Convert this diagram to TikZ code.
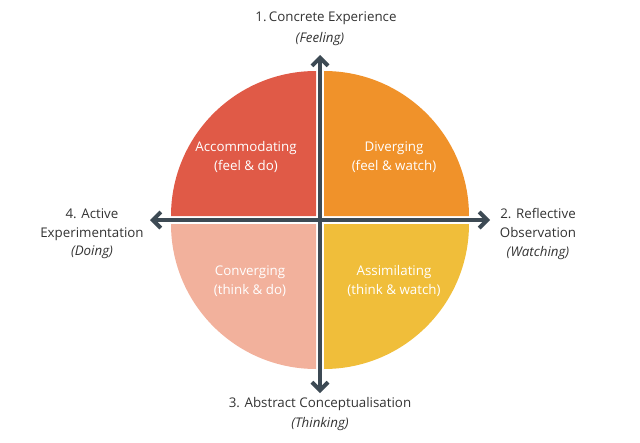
\documentclass[tikz,border=0pt]{standalone}
\usepackage{fontspec}
\setmainfont{Open Sans}
\usetikzlibrary{arrows.meta}
\definecolor{qred}{HTML}{E05A47}
\definecolor{qorange}{HTML}{F0922A}
\definecolor{qsalmon}{HTML}{F2B19C}
\definecolor{qyellow}{HTML}{F0BE3A}
\definecolor{axis}{HTML}{3D4A54}
\definecolor{txt}{HTML}{333333}
\begin{document}
\begin{tikzpicture}[x=0.75pt,y=-0.75pt,
  lab/.style={text=txt,align=center,font=\fontsize{10}{14}\selectfont},
  inlab/.style={text=white,align=center,font=\fontsize{10}{14}\selectfont},
  ax/.style={draw=axis,line width=3pt,{Straight Barb[length=6pt,width=12pt]}-{Straight Barb[length=6pt,width=12pt]}}]
\useasboundingbox (0,0) rectangle (640,443);
\def\r{145}
\fill[qred] (316,216) -- ++(-\r,0) arc[start angle=180,end angle=270,radius=\r] -- cycle;
\fill[qorange] (324,216) -- ++(0,-\r) arc[start angle=270,end angle=360,radius=\r] -- cycle;
\fill[qsalmon] (316,224) -- ++(-\r,0) arc[start angle=180,end angle=90,radius=\r] -- cycle;
\fill[qyellow] (324,224) -- ++(\r,0) arc[start angle=0,end angle=90,radius=\r] -- cycle;
\coordinate (t) at (320,55);
\coordinate (b) at (320,393);
\coordinate (l) at (150,220);
\coordinate (r) at (490,220);
\draw[ax] (b) -- (t);
\draw[ax] (l) -- (r);
\node[lab] (n1) at (326,18) {1.\,Concrete Experience};
\node[lab] (n1b) at (320,39) {\itshape (Feeling)};
\node[lab] (n2) at (538,234) {2. Reflective\\Observation\\\itshape (Watching)};
\node[lab] (n3) at (320,404) {3. Abstract Conceptualisation};
\node[lab] (n3b) at (320,424) {\itshape (Thinking)};
\node[lab] (n4) at (92,234) {4. Active\\Experimentation\\\itshape (Doing)};
\node[inlab] (a) at (246,157) {Accommodating\\(feel \& do)};
\node[inlab] (d) at (394,157) {Diverging\\(feel \& watch)};
\node[inlab] (c) at (250,281) {Converging\\(think \& do)};
\node[inlab] (s) at (394,281) {Assimilating\\(think \& watch)};
\end{tikzpicture}
\end{document}
